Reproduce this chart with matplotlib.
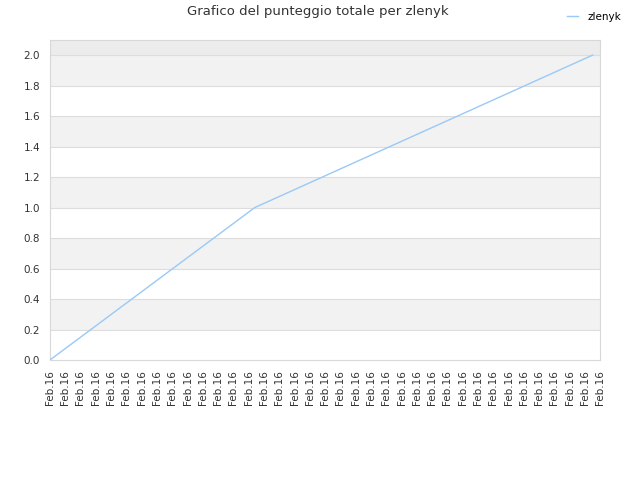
import matplotlib
matplotlib.use("Agg")
import matplotlib.pyplot as plt

# dati
tick_labels = ["Feb.16"] * 37
x_vals = [0, 13.4, 35.5]
punteggio = [0.0, 1.0, 2.0]
player = "zlenyk"

fig = plt.figure(figsize=(6.4, 4.8), dpi=100)
ax = fig.add_axes([0.078, 0.25, 0.86, 0.667])

ax.set_xlim(0, 36)
ax.set_ylim(0, 2.1)

# bande alternate di sfondo
bands = [(0.2, 0.4), (0.6, 0.8), (1.0, 1.2), (1.4, 1.6), (1.8, 2.0)]
for lo, hi in bands:
    ax.axhspan(lo, hi, color="#f2f2f2", zorder=0, lw=0)
ax.axhspan(2.0, 2.1, color="#ececec", zorder=0, lw=0)

yt = [i * 0.2 for i in range(11)]
ax.set_yticks(yt)
ax.set_yticklabels([f"{v:.1f}" for v in yt])
for v in yt[1:]:
    ax.axhline(v, color="#dddddd", lw=0.8, zorder=1)

ax.plot(x_vals, punteggio, color="#99c9f7", lw=1, label=player, zorder=3)

ax.set_xticks(range(len(tick_labels)))
ax.set_xticklabels(tick_labels, rotation=90)
ax.tick_params(length=0, labelsize=7.5, labelcolor="#333333", pad=7)
for s in ax.spines.values():
    s.set_color("#d8d8d8")

fig.text(0.497, 0.99, f"Grafico del punteggio totale per {player}",
         ha="center", va="top", fontsize=9.5, color="#333333")
fig.legend(loc="upper right", bbox_to_anchor=(0.985, 0.995), frameon=False,
           fontsize=7.5, handlelength=1.0, handletextpad=0.9)

fig.savefig("out.png", dpi=100)
